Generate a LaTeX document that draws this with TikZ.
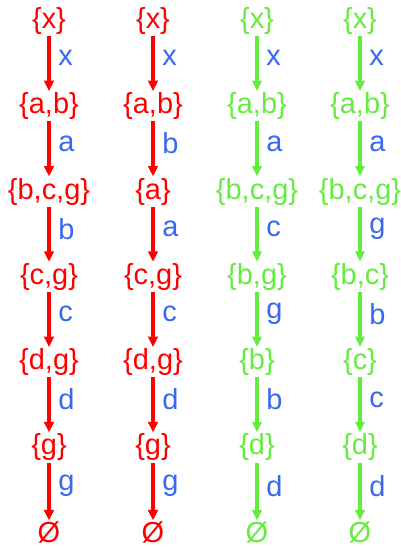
\documentclass[tikz,border=0pt]{standalone}
\usepackage{fontspec}
\setmainfont{Liberation Sans}
\usetikzlibrary{arrows.meta}
\definecolor{setgreen}{RGB}{102,236,64}
\definecolor{lblblue}{RGB}{58,104,240}
\tikzset{
  setnode/.style={inner sep=1pt, font=\fontsize{20.6}{24}\selectfont},
  redset/.style={setnode, text=red},
  greenset/.style={setnode, text=setgreen},
  redarrow/.style={draw=red, line width=2.2pt, -{Triangle[length=2.6mm,width=2.4mm]}},
  greenarrow/.style={draw=setgreen, line width=2.25pt, -{Triangle[length=2.6mm,width=2.3mm]}},
  lbl/.style={right, pos=0.4, xshift=0.8mm, text=lblblue, font=\fontsize{20.6}{24}\selectfont}
}

\begin{document}
\begin{tikzpicture}[x=0.025cm, y=-0.025cm]
  \useasboundingbox (0,0) rectangle (401,547);

  % Spalte 1
  \foreach \i/\s/\l in {0/{\{x\}}/-, 1/{\{a,b\}}/x, 2/{\{b,c,g\}}/a, 3/{\{c,g\}}/b,
                        4/{\{d,g\}}/c, 5/{\{g\}}/d, 6/Ø/g} {
    \node[redset] (A\i) at (49, 21+85.3*\i) {\s};
    \ifnum\i>0
      \pgfmathtruncatemacro{\p}{\i-1}
      \draw[redarrow] (A\p) -- node[lbl] {\l} (A\i);
    \fi
  }

  % Spalte 2
  \foreach \i/\s/\l in {0/{\{x\}}/-, 1/{\{a,b\}}/x, 2/{\{a\}}/b, 3/{\{c,g\}}/a,
                        4/{\{d,g\}}/c, 5/{\{g\}}/d, 6/Ø/g} {
    \node[redset] (B\i) at (153, 21+85.3*\i) {\s};
    \ifnum\i>0
      \pgfmathtruncatemacro{\p}{\i-1}
      \draw[redarrow] (B\p) -- node[lbl] {\l} (B\i);
    \fi
  }

  % Spalte 3
  \foreach \i/\s/\l in {0/{\{x\}}/-, 1/{\{a,b\}}/x, 2/{\{b,c,g\}}/a, 3/{\{b,g\}}/c,
                        4/{\{b\}}/g, 5/{\{d\}}/b, 6/Ø/d} {
    \node[greenset] (C\i) at (257, 21+85.3*\i) {\s};
    \ifnum\i>0
      \pgfmathtruncatemacro{\p}{\i-1}
      \draw[greenarrow] (C\p) -- node[lbl] {\l} (C\i);
    \fi
  }

  % Spalte 4
  \foreach \i/\s/\l in {0/{\{x\}}/-, 1/{\{a,b\}}/x, 2/{\{b,c,g\}}/a, 3/{\{b,c\}}/g,
                        4/{\{c\}}/b, 5/{\{d\}}/c, 6/Ø/d} {
    \node[greenset] (D\i) at (360, 21+85.3*\i) {\s};
    \ifnum\i>0
      \pgfmathtruncatemacro{\p}{\i-1}
      \draw[greenarrow] (D\p) -- node[lbl] {\l} (D\i);
    \fi
  }
\end{tikzpicture}
\end{document}
